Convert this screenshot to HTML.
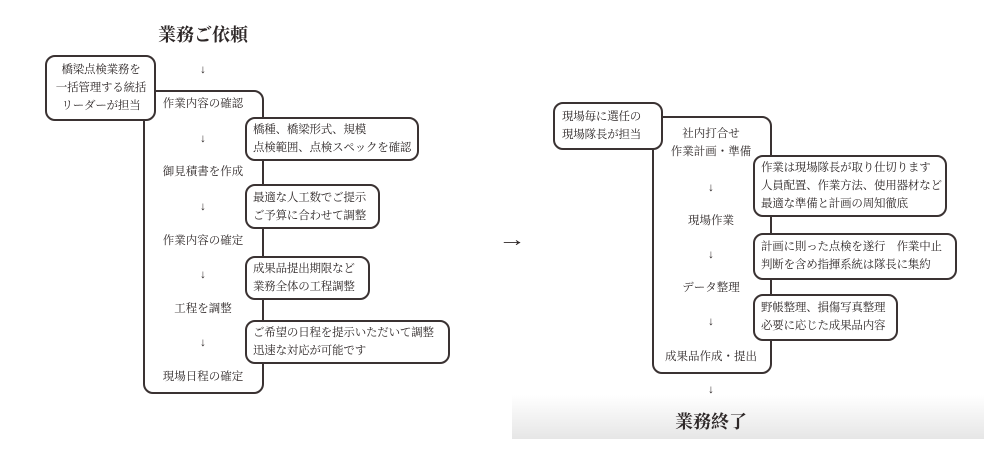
<!DOCTYPE html>
<html><head><meta charset="utf-8"><style>
body{margin:0;width:1000px;height:451px;background:#fff;position:relative;overflow:hidden;font-family:"Liberation Serif","Noto Serif CJK SC","Noto Serif CJK JP",serif;color:#2e2828}
.b{position:absolute;border:2px solid #3a3232;border-radius:10px;box-sizing:border-box;background:#fff}
.t{position:absolute;font-size:11.5px;white-space:nowrap;transform:translate(-50%,-50%);text-align:center;line-height:18px}
.r{position:absolute;font-size:11.5px;line-height:18px;white-space:nowrap;letter-spacing:-0.2px}
.h{font-size:18px;font-weight:bold}
</style></head><body>
<div style="position:absolute;left:512px;top:395px;width:472px;height:44px;background:linear-gradient(#fff,#e6e6e6)"></div>

<div class="b" style="left:143px;top:90px;width:121px;height:304px"></div>
<div class="b" style="left:45px;top:55px;width:111px;height:66px"></div>
<div class="r" style="left:49px;top:61px;width:104px;text-align:center">橋梁点検業務を<br>一括管理する統括<br>リーダーが担当</div>
<div class="t h" style="left:203px;top:35px">業務ご依頼</div>
<div class="t" style="left:203px;top:70px">↓</div>
<div class="t" style="left:203px;top:104px">作業内容の確認</div>
<div class="t" style="left:203px;top:139px">↓</div>
<div class="t" style="left:203px;top:172px">御見積書を作成</div>
<div class="t" style="left:203px;top:207px">↓</div>
<div class="t" style="left:203px;top:241px">作業内容の確定</div>
<div class="t" style="left:203px;top:275px">↓</div>
<div class="t" style="left:203px;top:309px">工程を調整</div>
<div class="t" style="left:203px;top:343px">↓</div>
<div class="t" style="left:203px;top:377px">現場日程の確定</div>

<div class="b" style="left:245px;top:117px;width:174px;height:44px"></div>
<div class="r" style="left:253px;top:121px">橋種、橋梁形式、規模<br>点検範囲、点検スペックを確認</div>
<div class="b" style="left:245px;top:184px;width:135px;height:45px"></div>
<div class="r" style="left:253px;top:189px">最適な人工数でご提示<br>ご予算に合わせて調整</div>
<div class="b" style="left:245px;top:256px;width:125px;height:44px"></div>
<div class="r" style="left:253px;top:260px">成果品提出期限など<br>業務全体の工程調整</div>
<div class="b" style="left:245px;top:320px;width:205px;height:44px"></div>
<div class="r" style="left:253px;top:324px">ご希望の日程を提示いただいて調整<br>迅速な対応が可能です</div>

<div class="t" style="left:512px;top:240px;font-size:20px;transform:translate(-50%,-50%) scaleX(1.4)">→</div>

<div class="b" style="left:652px;top:116px;width:120px;height:258px"></div>
<div class="b" style="left:553px;top:102px;width:110px;height:48px"></div>
<div class="r" style="left:562px;top:108px">現場毎に選任の<br>現場隊長が担当</div>
<div class="t" style="left:711px;top:143px">社内打合せ<br>作業計画・準備</div>
<div class="t" style="left:711px;top:188px">↓</div>
<div class="t" style="left:711px;top:221px">現場作業</div>
<div class="t" style="left:711px;top:255px">↓</div>
<div class="t" style="left:711px;top:288px">データ整理</div>
<div class="t" style="left:711px;top:322px">↓</div>
<div class="t" style="left:711px;top:357px">成果品作成・提出</div>
<div class="t" style="left:711px;top:390px">↓</div>
<div class="t h" style="left:711px;top:422px">業務終了</div>

<div class="b" style="left:753px;top:155px;width:194px;height:62px"></div>
<div class="r" style="left:761px;top:159px">作業は現場隊長が取り仕切ります<br>人員配置、作業方法、使用器材など<br>最適な準備と計画の周知徹底</div>
<div class="b" style="left:753px;top:233px;width:204px;height:47px"></div>
<div class="r" style="left:761px;top:238px">計画に則った点検を遂行　作業中止<br>判断を含め指揮系統は隊長に集約</div>
<div class="b" style="left:753px;top:294px;width:145px;height:47px"></div>
<div class="r" style="left:761px;top:299px">野帳整理、損傷写真整理<br>必要に応じた成果品内容</div>
</body></html>
